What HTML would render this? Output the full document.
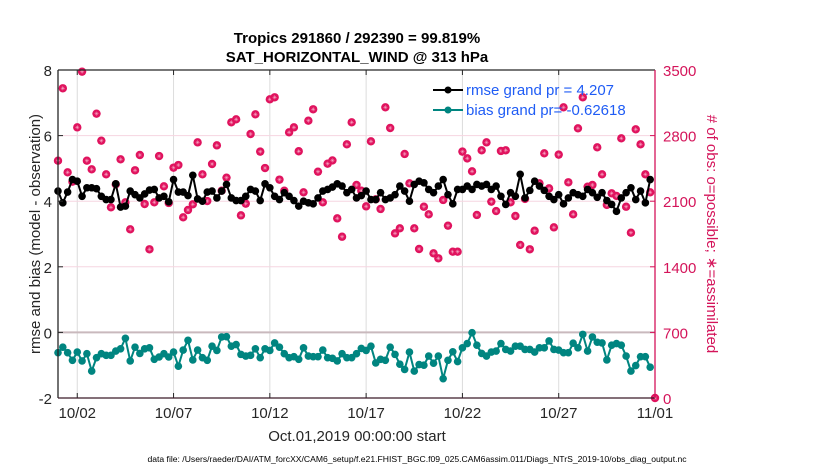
<!DOCTYPE html>
<html><head><meta charset="utf-8"><style>
html,body{margin:0;padding:0;background:#fff;}
svg{display:block;font-family:"Liberation Sans",Arial,sans-serif;}
</style></head><body>
<svg id="chart" width="830" height="470" viewBox="0 0 830 470" xmlns="http://www.w3.org/2000/svg">
<text x="357" y="43" text-anchor="middle" font-size="15" font-weight="bold" fill="#000">Tropics 291860 / 292390 = 99.819%</text>
<text x="357" y="62" text-anchor="middle" font-size="15" font-weight="bold" fill="#000">SAT_HORIZONTAL_WIND @ 313 hPa</text>
<g id="grid"></g>
<g id="marks"></g>
<g id="axes"></g>
<text transform="translate(40,234) rotate(-90)" text-anchor="middle" font-size="15" fill="#262626">rmse and bias (model - observation)</text>
<text transform="translate(707,234) rotate(90)" text-anchor="middle" font-size="15" fill="#d4145a"># of obs: o=possible; ∗=assimilated</text>
<text x="357" y="441" text-anchor="middle" font-size="15" fill="#262626">Oct.01,2019 00:00:00 start</text>
<text x="417" y="462" text-anchor="middle" font-size="8.6" fill="#000">data file: /Users/raeder/DAI/ATM_forcXX/CAM6_setup/f.e21.FHIST_BGC.f09_025.CAM6assim.011/Diags_NTrS_2019-10/obs_diag_output.nc</text>
<g>
<line x1="433" y1="90" x2="463" y2="90" stroke="#000" stroke-width="2"/>
<circle cx="448" cy="90" r="3.5" fill="#000"/>
<text x="466" y="95" font-size="15" fill="#1f5cf5">rmse grand pr = 4.207</text>
<line x1="433" y1="110" x2="463" y2="110" stroke="#008580" stroke-width="2"/>
<circle cx="448" cy="110" r="3.5" fill="#008580"/>
<text x="466" y="115" font-size="15" fill="#1f5cf5">bias grand pr= -0.62618</text>
</g>
</svg>
<script>
const xTickLabels = ["10/02","10/07","10/12","10/17","10/22","10/27","11/01"];
const xTickDays = [1,6,11,16,21,26,31];
const leftTicks = [-2,0,2,4,6,8];
const rightTicks = [0,700,1400,2100,2800,3500];
const obsCount = [2532,3305,2408,2308,2888,3482,2532,2440,3034,2746,2387,2035,2280,2547,2088,1800,2430,2593,2070,1587,2088,2582,2259,2081,2458,2486,1928,2006,2067,2728,2387,2102,2497,2696,2212,2351,2942,2974,1949,2074,2817,3027,2629,2454,3187,3209,2330,2212,2835,2888,2633,2195,2959,3081,2415,2088,2500,2535,1917,1721,2707,2942,2273,2212,2045,2739,2120,2017,3102,2881,1757,1811,2604,2291,1811,1590,2041,1960,1544,1491,2113,1839,1561,1561,2629,2557,2419,1953,2643,2728,2095,1995,2636,2643,2088,1942,1633,2124,1587,1785,2291,2611,2237,1821,2597,3102,2302,1960,2878,3209,2255,2273,2675,2387,2060,2184,2156,2771,2041,1764,2867,2707,2387,2195,0];
const rmse = [4.31,3.95,4.28,4.66,4.61,4.15,4.41,4.41,4.38,4.15,4.05,4.05,4.53,3.82,3.85,4.31,4.20,4.10,4.22,4.34,4.36,4.10,4.15,3.98,4.66,4.28,4.28,4.17,4.79,4.07,4.00,4.28,4.31,4.10,4.31,4.51,4.10,4.02,4.02,4.15,4.36,4.31,4.02,4.53,4.41,4.15,4.05,4.26,4.15,4.02,3.85,4.00,3.95,3.92,4.10,4.31,4.36,4.43,4.53,4.46,4.26,4.36,4.10,4.17,4.31,4.05,4.05,4.26,4.05,4.10,4.20,4.46,4.31,4.00,4.51,4.61,4.56,4.36,4.26,4.46,4.66,4.20,3.92,4.36,4.36,4.46,4.36,4.51,4.46,4.51,4.36,4.46,4.15,3.90,4.26,4.15,4.82,4.10,4.33,4.61,4.46,4.33,4.15,4.05,4.20,3.92,4.10,4.26,4.20,4.15,4.36,4.26,4.12,4.26,4.02,3.90,3.69,4.10,4.26,4.41,4.05,4.31,3.95,4.66];
const bias = [-0.62,-0.45,-0.62,-0.85,-0.60,-0.87,-0.65,-1.18,-0.77,-0.65,-0.70,-0.70,-0.57,-0.50,-0.18,-0.87,-0.45,-0.64,-0.50,-0.47,-0.82,-0.75,-0.65,-0.75,-0.60,-1.03,-0.54,-0.24,-0.84,-0.54,-0.77,-0.85,-0.42,-0.55,-0.14,-0.13,-0.42,-0.37,-0.67,-0.72,-0.70,-0.50,-0.77,-0.50,-0.55,-0.32,-0.45,-0.65,-0.77,-0.74,-0.82,-0.47,-0.72,-0.74,-0.74,-0.54,-0.77,-0.79,-0.87,-0.65,-0.77,-0.77,-0.65,-0.49,-0.55,-0.42,-0.93,-0.82,-0.85,-0.45,-0.67,-0.97,-1.13,-0.60,-1.18,-0.98,-1.00,-0.72,-0.94,-0.72,-1.41,-0.85,-0.59,-0.89,-0.47,-0.34,-0.01,-0.39,-0.64,-0.72,-0.60,-0.57,-0.34,-0.52,-0.57,-0.42,-0.42,-0.52,-0.52,-0.60,-0.47,-0.47,-0.26,-0.52,-0.54,-0.62,-0.62,-0.33,-0.47,-0.06,-0.57,-0.14,-0.30,-0.32,-0.84,-0.39,-0.34,-0.39,-0.72,-1.18,-1.01,-0.74,-0.74,-1.06];
const stepDays = 0.25;

const NS="http://www.w3.org/2000/svg";
const L=58,R=655,T=70,B=398;
const xS=d=>L+(R-L)*d/31;
const yL=v=>B-(v+2)/10*(B-T);
const yR=v=>B-v/3500*(B-T);
function mk(tag,attrs,parent){const e=document.createElementNS(NS,tag);for(const k in attrs)e.setAttribute(k,attrs[k]);parent.appendChild(e);return e;}
const grid=document.getElementById('grid'),marks=document.getElementById('marks'),axes=document.getElementById('axes');

xTickDays.forEach((d,i)=>{
  const g=mk('line',{x1:xS(d),x2:xS(d),y1:T,y2:B,stroke:'#dcdcdc','stroke-width':1},grid);
  
  
  const t=mk('line',{x1:xS(d),x2:xS(d),y1:B,y2:B-5,stroke:'#262626','stroke-width':1},axes);
  
  
  const t2=mk('line',{x1:xS(d),x2:xS(d),y1:T,y2:T+5,stroke:'#262626','stroke-width':1},axes);
  
  
  const lb=mk('text',{x:xS(d),y:418,'text-anchor':'middle','font-size':15,fill:'#262626'},axes);
  lb.textContent=xTickLabels[i];
  
  
});
rightTicks.forEach(v=>{
  if(v>0&&v<3500){
    const g=mk('line',{x1:L,x2:R,y1:yR(v),y2:yR(v),stroke:'#f6d5e1','stroke-width':1},grid);
    
    
  }
  const t=mk('line',{x1:R,x2:R-5,y1:yR(v),y2:yR(v),stroke:'#d4145a','stroke-width':1},axes);
  
  
  const lb=mk('text',{x:R+8,y:yR(v)+6,'font-size':15,fill:'#d4145a'},axes);
  lb.textContent=v;
  
  
});
leftTicks.forEach(v=>{
  const t=mk('line',{x1:L,x2:L+5,y1:yL(v),y2:yL(v),stroke:'#262626','stroke-width':1},axes);
  
  
  const lb=mk('text',{x:L-6,y:yL(v)+6,'text-anchor':'end','font-size':15,fill:'#262626'},axes);
  lb.textContent=v;
  
  
});
const zl=mk('line',{x1:L,x2:R,y1:yL(0),y2:yL(0),stroke:'#c9b9bd','stroke-width':2},grid);



const ax1=mk('line',{x1:L,x2:L,y1:T,y2:B,stroke:'#262626','stroke-width':1.3},axes);


const ax2=mk('line',{x1:L,x2:R,y1:B,y2:B,stroke:'#3a1a28','stroke-width':1.3},axes);


const ax3=mk('line',{x1:L,x2:R,y1:T,y2:T,stroke:'#262626','stroke-width':1.3},axes);


const ax4=mk('line',{x1:R,x2:R,y1:T,y2:B,stroke:'#d4145a','stroke-width':1.3},axes);



obsCount.forEach((v,i)=>{
  const x=xS(i*stepDays),y=yR(v);
  const g=mk('g',{},marks);
  
  
  mk('circle',{cx:x,cy:y,r:4.2,fill:'#e0135e'},g);
  mk('path',{d:`M${x-2} ${y}H${x+2}M${x} ${y-2}V${y+2}M${x-1.4} ${y-1.4}L${x+1.4} ${y+1.4}M${x-1.4} ${y+1.4}L${x+1.4} ${y-1.4}`,stroke:'#f7a8c4','stroke-width':0.5},g);
});
function series(vals,color,name){
  const pts=vals.map((v,i)=>xS(i*stepDays)+','+yL(v)).join(' ');
  const pl=mk('polyline',{points:pts,fill:'none',stroke:color,'stroke-width':2},marks);
  
  
  vals.forEach((v,i)=>{
    const c=mk('circle',{cx:xS(i*stepDays),cy:yL(v),r:3.8,fill:color},marks);
    
    
  });
}
series(rmse,'#000','rmse');
series(bias,'#008580','bias');
</script>
</body></html>
